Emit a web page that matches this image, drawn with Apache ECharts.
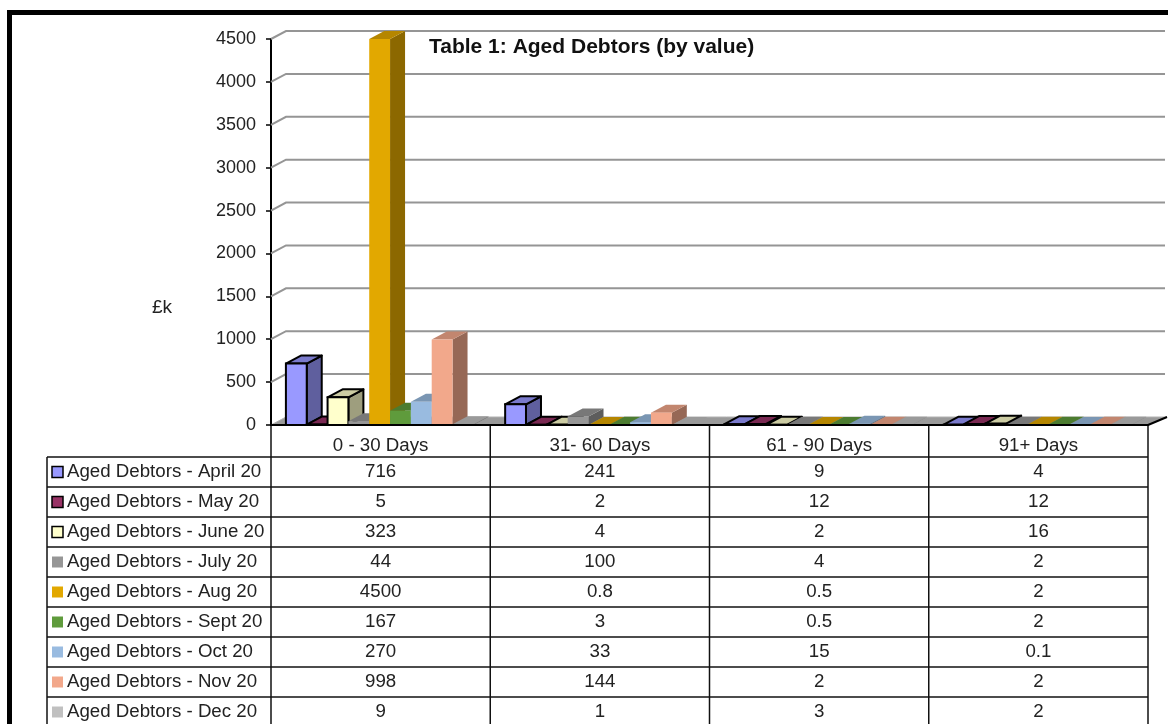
<!DOCTYPE html>
<html>
<head>
<meta charset="utf-8">
<script src="https://cdn.jsdelivr.net/npm/echarts@6/dist/echarts.min.js"></script>
<style>
html,body{margin:0;padding:0;background:#fff;}
#chart{width:1168px;height:724px;}
</style>
</head>
<body>
<div id="chart"></div>
<script>
// ---------- data ----------
const categories = ['0 - 30 Days', '31- 60 Days', '61 - 90 Days', '91+ Days'];
const seriesNames = [
  'Aged Debtors - April 20', 'Aged Debtors - May 20', 'Aged Debtors - June 20',
  'Aged Debtors - July 20', 'Aged Debtors - Aug 20', 'Aged Debtors - Sept 20',
  'Aged Debtors - Oct 20', 'Aged Debtors - Nov 20', 'Aged Debtors - Dec 20'
];
const april = [716, 241, 9, 4];
const may   = [5, 2, 12, 12];
const june  = [323, 4, 2, 16];
const july  = [44, 100, 4, 2];
const aug   = [4500, 0.8, 0.5, 2];
const sept  = [167, 3, 0.5, 2];
const oct   = [270, 33, 15, 0.1];
const nov   = [998, 144, 2, 2];
const dec   = [9, 1, 3, 2];
const seriesValues = [april, may, june, july, aug, sept, oct, nov, dec];
const yTicks = [0, 500, 1000, 1500, 2000, 2500, 3000, 3500, 4000, 4500];
const titleText = 'Table 1: Aged Debtors (by value)';
const unitLabel = '£k';

// ---------- styles ----------
const colors = ['#9999FF', '#993366', '#FFFFCC', '#969696', '#E2A800', '#5F9B3C', '#99BBE0', '#F2A88B', '#C0C0C0'];
const bordered = [true, true, true, false, false, false, false, false, false];
const FONT = '"Liberation Sans", Arial, sans-serif';
const TXT = '#222';
const DX = 15, DY = -8;          // 3D depth offset
const LEAD = 0.068, SLOT = 0.095; // fractions of category band

const GRID = {left: 271, top: 39, width: 877, height: 386};
const TABLE_LEFT = 47, ROW_H = 30, HEADER_H = 32;

function shade(hex, f) {
  const n = parseInt(hex.slice(1), 16);
  const r = Math.round(((n >> 16) & 255) * f), g = Math.round(((n >> 8) & 255) * f), b = Math.round((n & 255) * f);
  return 'rgb(' + r + ',' + g + ',' + b + ')';
}

function barRender(si) {
  const color = colors[si];
  const stroke = bordered[si] ? '#000' : null;
  const lw = bordered[si] ? 2 : 0;
  return function (params, api) {
    const cat = api.value(0), val = api.value(1);
    const base = api.coord([cat, 0]);
    const top = api.coord([cat, val]);
    const band = api.size([1, 0])[0];
    const w = band * SLOT;
    const x0 = base[0] - band / 2 + band * LEAD + si * w;
    const yb = base[1], yt = top[1];
    return {
      type: 'group',
      children: [
        {type: 'polygon', shape: {points: [[x0 + w, yt], [x0 + w + DX, yt + DY], [x0 + w + DX, yb + DY], [x0 + w, yb]]},
         style: {fill: shade(color, 0.62), stroke: stroke, lineWidth: lw, lineJoin: 'round'}},
        {type: 'polygon', shape: {points: [[x0, yt], [x0 + DX, yt + DY], [x0 + w + DX, yt + DY], [x0 + w, yt]]},
         style: {fill: shade(color, 0.8), stroke: stroke, lineWidth: lw, lineJoin: 'round'}},
        {type: 'rect', shape: {x: x0, y: yt, width: w, height: yb - yt},
         style: {fill: color, stroke: stroke, lineWidth: lw}}
      ]
    };
  };
}

const series = [];
// floor
series.push({
  type: 'custom', z: 1, silent: true,
  data: [[0, 0]],
  renderItem: function (params, api) {
    const cs = params.coordSys;
    const y0 = api.coord([0, 0])[1];
    const l = cs.x, r = cs.x + cs.width;
    return {type: 'group', children: [
      {type: 'polygon', shape: {points: [[l, y0], [r, y0], [r + DX + 4, y0 + DY], [l + DX, y0 + DY]]},
       style: {fill: '#9a9a9a', stroke: '#b0b0b0', lineWidth: 1}},
      {type: 'polyline', shape: {points: [[r, y0], [r + DX + 4, y0 + DY]]}, style: {stroke: '#000', lineWidth: 2, fill: null}}
    ]};
  }
});
// gridlines (3D wall)
series.push({
  type: 'custom', z: 1, silent: true,
  data: yTicks.filter(v => v > 0).map(v => [0, v]),
  renderItem: function (params, api) {
    const cs = params.coordSys;
    const y = api.coord([0, api.value(1)])[1];
    return {type: 'polyline',
      shape: {points: [[cs.x, y], [cs.x + DX, y + DY], [cs.x + cs.width + DX + 2, y + DY]]},
      style: {stroke: '#959595', lineWidth: 2, fill: null}};
  }
});
seriesValues.forEach(function (vals, si) {
  series.push({
    type: 'custom', name: seriesNames[si], z: 3 + si, silent: true,
    data: vals.map((v, ci) => [ci, v]),
    renderItem: barRender(si)
  });
});

// ---------- table (built from data arrays) ----------
function buildTable() {
  const els = [];
  const band = GRID.width / categories.length;
  const yTop = GRID.top + GRID.height;       // header row top
  const rowsTop = yTop + HEADER_H;
  const bottom = 760;
  const right = GRID.left + GRID.width;
  for (let i = 0; i <= seriesNames.length; i++) {
    const y = rowsTop + i * ROW_H;
    els.push({type: 'line', shape: {x1: TABLE_LEFT, y1: y, x2: right, y2: y}, style: {stroke: '#111', lineWidth: 1.5}});
  }
  els.push({type: 'line', shape: {x1: TABLE_LEFT, y1: rowsTop, x2: TABLE_LEFT, y2: bottom}, style: {stroke: '#111', lineWidth: 1.5}});
  for (let c = 0; c <= categories.length; c++) {
    const x = GRID.left + c * band;
    els.push({type: 'line', shape: {x1: x, y1: yTop, x2: x, y2: bottom}, style: {stroke: '#111', lineWidth: 1.5}});
  }
  seriesNames.forEach(function (name, si) {
    const cy = rowsTop + si * ROW_H + ROW_H / 2;
    els.push({type: 'rect', shape: {x: 52, y: cy - 5.5, width: 11, height: 11},
      style: {fill: colors[si], stroke: bordered[si] ? '#000' : null, lineWidth: bordered[si] ? 1.5 : 0}});
    els.push({type: 'text', x: 67, y: cy, style: {text: name, fill: TXT, fontSize: 18.7, fontFamily: FONT, align: 'left', verticalAlign: 'middle'}});
    seriesValues[si].forEach(function (v, ci) {
      els.push({type: 'text', x: GRID.left + (ci + 0.5) * band, y: cy,
        style: {text: String(v), fill: TXT, fontSize: 18.7, fontFamily: FONT, align: 'center', verticalAlign: 'middle'}});
    });
  });
  els.push({type: 'text', x: 162, y: 308, style: {text: unitLabel, fill: TXT, fontSize: 19, fontFamily: FONT, align: 'center', verticalAlign: 'middle'}});
  els.push({type: 'text', x: 429, y: 47, style: {text: titleText, fill: '#111', fontSize: 21, fontWeight: 'bold', fontFamily: FONT, align: 'left', verticalAlign: 'middle'}});
  els.push({type: 'rect', shape: {x: 9.5, y: 12.5, width: 1200, height: 800}, style: {fill: null, stroke: '#000', lineWidth: 5}});
  return els;
}

const chart = echarts.init(document.getElementById('chart'), null, {renderer: 'canvas'});
chart.setOption({
  backgroundColor: '#fff',
  animation: false,
  grid: {left: GRID.left, top: GRID.top, width: GRID.width, height: GRID.height, containLabel: false},
  xAxis: {
    type: 'category', data: categories, boundaryGap: true, z: 20,
    axisLine: {show: true, lineStyle: {color: '#000', width: 2}},
    axisTick: {show: false},
    axisLabel: {fontSize: 18.7, color: TXT, fontFamily: FONT, margin: 11},
    splitLine: {show: false}
  },
  yAxis: {
    type: 'value', min: 0, max: 4500, interval: 500,
    axisLine: {show: true, lineStyle: {color: '#000', width: 2}},
    axisTick: {show: true, length: 5, lineStyle: {color: '#000', width: 1.5}},
    axisLabel: {fontSize: 18, color: TXT, fontFamily: FONT, margin: 15, formatter: function (v) { return String(v); }},
    splitLine: {show: false}
  },
  series: series,
  graphic: {elements: buildTable()}
});
</script>
</body>
</html>
